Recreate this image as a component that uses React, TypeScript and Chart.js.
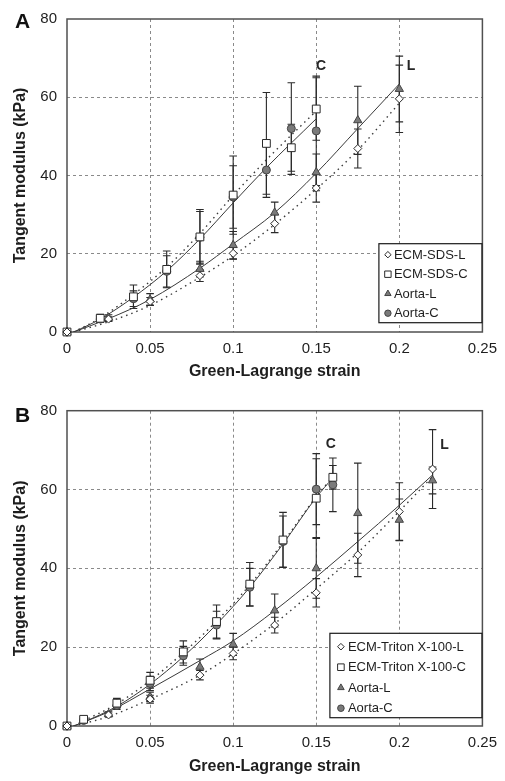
import React, { useEffect, useRef } from 'react';
import { Chart, registerables } from 'chart.js';

Chart.register(...registerables);

const FONT = '"Liberation Sans", Arial, Helvetica, sans-serif';
const TEXT = '#1e1e1e';

// ---------- shared axes ----------
const X_TICKS = [0, 0.05, 0.1, 0.15, 0.2, 0.25];
const Y_TICKS = [0, 20, 40, 60, 80];
const X_TITLE = 'Green-Lagrange strain';
const Y_TITLE = 'Tangent modulus (kPa)';

// ---------- Panel A ----------
const A_C_STRAIN = [0, 0.02, 0.04, 0.06, 0.08, 0.1, 0.12, 0.135, 0.15];
const A_ECM_C = [0, 3.5, 9.0, 16.0, 24.3, 35.0, 48.2, 47.1, 57.0];
const A_ECM_C_SD = [0, 1.0, 3.0, 4.7, 7.0, 10.0, 13.0, 6.0, 8.0];
const A_AORTA_C = [0, 3.3, 8.5, 15.5, 24.2, 34.5, 41.4, 52.0, 51.4];
const A_AORTA_C_SD = [0, 0.8, 2.0, 4.0, 6.6, 8.0, 7.0, 11.7, 14.0];

const A_L_STRAIN = [0, 0.025, 0.05, 0.08, 0.1, 0.125, 0.15, 0.175, 0.2];
const A_ECM_L = [0, 3.3, 7.8, 14.4, 20.1, 27.7, 36.8, 46.9, 59.6];
const A_ECM_L_SD = [0, 0.6, 1.0, 1.5, 1.5, 2.3, 3.6, 5.0, 8.6];
const A_AORTA_L = [0, 3.6, 8.3, 16.1, 22.2, 30.5, 40.8, 54.1, 62.1];
const A_AORTA_L_SD = [0, 0.8, 1.5, 2.0, 3.5, 2.7, 4.7, 8.7, 8.4];

const A_FIT_C_STRAIN = [0.004, 0.02, 0.04, 0.06, 0.08, 0.1, 0.12, 0.15];
const A_FIT_AORTA_C = [0, 3.3, 8.9, 15.6, 23.8, 33.0, 42.0, 54.5];
const A_FIT_ECM_C = [0, 3.6, 9.6, 16.6, 25.2, 34.9, 44.0, 56.5];
const A_FIT_L_STRAIN = [0.004, 0.025, 0.05, 0.08, 0.1, 0.125, 0.15, 0.175, 0.2];
const A_FIT_AORTA_L = [0, 3.4, 8.3, 16.3, 22.5, 30.5, 40.6, 52.0, 63.4];
const A_FIT_ECM_L = [0, 2.6, 6.8, 14.0, 19.5, 27.5, 36.5, 46.5, 58.5];

// ---------- Panel B ----------
const B_C_STRAIN = [0, 0.01, 0.03, 0.05, 0.07, 0.09, 0.11, 0.13, 0.15, 0.16];
const B_ECM_C = [0, 1.7, 5.8, 11.6, 18.8, 26.5, 36.0, 47.2, 57.8, 63.1];
const B_ECM_C_SD = [0, 0.6, 1.2, 2.0, 2.8, 4.2, 5.5, 7.0, 10.0, 3.0];
const B_AORTA_C = [0, 1.4, 5.2, 10.8, 17.8, 25.6, 35.2, 46.8, 60.1, 61.2];
const B_AORTA_C_SD = [0, 0.5, 1.0, 1.8, 2.4, 3.5, 4.8, 6.5, 9.0, 6.8];

const B_L_STRAIN = [0, 0.025, 0.05, 0.08, 0.1, 0.125, 0.15, 0.175, 0.2, 0.22];
const B_ECM_L = [0, 2.8, 6.8, 12.9, 18.4, 25.6, 33.8, 43.4, 54.4, 65.2];
const B_ECM_L_SD = [0, 0.5, 1.0, 1.2, 1.6, 2.0, 3.6, 5.5, 7.3, 10.0];
const B_AORTA_L = [0, 3.0, 7.4, 15.0, 20.7, 29.3, 40.0, 54.0, 52.3, 62.3];
const B_AORTA_L_SD = [0, 0.6, 1.2, 2.0, 2.8, 4.2, 7.6, 12.7, 5.3, 3.4];

const B_FIT_C_STRAIN = [0.004, 0.01, 0.03, 0.05, 0.07, 0.09, 0.11, 0.13, 0.15, 0.16];
const B_FIT_AORTA_C = [0, 1.0, 5.0, 10.6, 17.6, 25.8, 35.2, 46.2, 58.0, 63.0];
const B_FIT_ECM_C = [0, 1.3, 5.6, 11.5, 18.6, 26.6, 35.8, 46.6, 58.2, 63.2];
const B_FIT_L_STRAIN = [0.004, 0.025, 0.05, 0.08, 0.1, 0.125, 0.15, 0.175, 0.2, 0.22];
const B_FIT_AORTA_L = [0, 3.6, 9.4, 16.6, 21.6, 29.3, 37.8, 46.8, 56.0, 63.7];
const B_FIT_ECM_L = [0, 2.4, 6.8, 12.9, 18.3, 26.0, 34.8, 44.0, 54.5, 63.3];

// ---------- styles ----------
type MarkerKind = 'diamond' | 'square' | 'triangle' | 'circle';
const STYLE: Record<MarkerKind, { pointStyle: string; radius: number; fill: string; stroke: string }> = {
  diamond: { pointStyle: 'rectRot', radius: 4, fill: '#ffffff', stroke: '#2a2a2a' },
  square: { pointStyle: 'rect', radius: 5.5, fill: '#ffffff', stroke: '#2a2a2a' },
  triangle: { pointStyle: 'triangle', radius: 4.8, fill: '#7a7a7a', stroke: '#444444' },
  circle: { pointStyle: 'circle', radius: 4, fill: '#7a7a7a', stroke: '#444444' },
};

type Series = { label: string; kind: MarkerKind; x: number[]; y: number[]; sd: number[] };
type Fit = { x: number[]; y: number[]; dotted: boolean };

type Panel = {
  letter: string;
  canvasHeight: number;
  padTop: number;
  xAxisHeight: number;
  xTitlePad: number;
  letterBaseline: number;
  series: Series[];
  fits: Fit[];
  notes: { text: string; x: number; y: number }[];
  legend: { width: number; height: number; bottomInset: number; firstRow: number; rowGap: number; markerX: number; textX: number; markerR: number };
};

const PANEL_A: Panel = {
  letter: 'A',
  canvasHeight: 390,
  padTop: 16,
  xAxisHeight: 58,
  xTitlePad: 8.4,
  letterBaseline: 27.5,
  series: [
    { label: 'ECM-SDS-L', kind: 'diamond', x: A_L_STRAIN, y: A_ECM_L, sd: A_ECM_L_SD },
    { label: 'ECM-SDS-C', kind: 'square', x: A_C_STRAIN, y: A_ECM_C, sd: A_ECM_C_SD },
    { label: 'Aorta-L', kind: 'triangle', x: A_L_STRAIN, y: A_AORTA_L, sd: A_AORTA_L_SD },
    { label: 'Aorta-C', kind: 'circle', x: A_C_STRAIN, y: A_AORTA_C, sd: A_AORTA_C_SD },
  ],
  fits: [
    { x: A_FIT_C_STRAIN, y: A_FIT_AORTA_C, dotted: false },
    { x: A_FIT_C_STRAIN, y: A_FIT_ECM_C, dotted: true },
    { x: A_FIT_L_STRAIN, y: A_FIT_AORTA_L, dotted: false },
    { x: A_FIT_L_STRAIN, y: A_FIT_ECM_L, dotted: true },
  ],
  notes: [
    { text: 'C', x: 0.1498, y: 67.9 },
    { text: 'L', x: 0.2044, y: 67.9 },
  ],
  legend: { width: 103, height: 79, bottomInset: 9.3, firstRow: 11, rowGap: 19.5, markerX: 9, textX: 15, markerR: 3.2 },
};

const PANEL_B: Panel = {
  letter: 'B',
  canvasHeight: 391,
  padTop: 20.7,
  xAxisHeight: 55,
  xTitlePad: 4.4,
  letterBaseline: 32.3,
  series: [
    { label: 'ECM-Triton X-100-L', kind: 'diamond', x: B_L_STRAIN, y: B_ECM_L, sd: B_ECM_L_SD },
    { label: 'ECM-Triton X-100-C', kind: 'square', x: B_C_STRAIN, y: B_ECM_C, sd: B_ECM_C_SD },
    { label: 'Aorta-L', kind: 'triangle', x: B_L_STRAIN, y: B_AORTA_L, sd: B_AORTA_L_SD },
    { label: 'Aorta-C', kind: 'circle', x: B_C_STRAIN, y: B_AORTA_C, sd: B_AORTA_C_SD },
  ],
  fits: [
    { x: B_FIT_C_STRAIN, y: B_FIT_AORTA_C, dotted: false },
    { x: B_FIT_C_STRAIN, y: B_FIT_ECM_C, dotted: true },
    { x: B_FIT_L_STRAIN, y: B_FIT_AORTA_L, dotted: false },
    { x: B_FIT_L_STRAIN, y: B_FIT_ECM_L, dotted: true },
  ],
  notes: [
    { text: 'C', x: 0.1557, y: 71.6 },
    { text: 'L', x: 0.2246, y: 71.3 },
  ],
  legend: { width: 152, height: 84.4, bottomInset: 8.3, firstRow: 13.4, rowGap: 20.5, markerX: 11, textX: 18, markerR: 3.3 },
};

function drawMarker(ctx: CanvasRenderingContext2D, kind: MarkerKind, x: number, y: number, r: number) {
  const s = STYLE[kind];
  ctx.beginPath();
  if (kind === 'diamond') {
    ctx.moveTo(x - r, y);
    ctx.lineTo(x, y - r);
    ctx.lineTo(x + r, y);
    ctx.lineTo(x, y + r);
    ctx.closePath();
  } else if (kind === 'square') {
    ctx.rect(x - r, y - r, 2 * r, 2 * r);
  } else if (kind === 'triangle') {
    const a = (2 * Math.PI) / 3;
    ctx.moveTo(x, y - r * 1.15);
    ctx.lineTo(x + Math.sin(a) * r * 1.15, y - Math.cos(a) * r * 1.15);
    ctx.lineTo(x + Math.sin(2 * a) * r * 1.15, y - Math.cos(2 * a) * r * 1.15);
    ctx.closePath();
  } else {
    ctx.arc(x, y, r, 0, Math.PI * 2);
  }
  ctx.fillStyle = s.fill;
  ctx.fill();
  ctx.lineWidth = 1;
  ctx.strokeStyle = s.stroke;
  ctx.stroke();
}

function buildConfig(panel: Panel): any {
  const decor = {
    id: 'decor' + panel.letter,
    beforeDatasetsDraw(chart: any) {
      const { ctx, chartArea, scales } = chart;
      const xs = scales.x;
      const ys = scales.y;
      ctx.save();
      // frame
      ctx.strokeStyle = '#505050';
      ctx.lineWidth = 1.5;
      ctx.strokeRect(chartArea.left, chartArea.top, chartArea.right - chartArea.left, chartArea.bottom - chartArea.top);
      // error bars
      ctx.strokeStyle = '#2a2a2a';
      ctx.lineWidth = 1.1;
      for (const s of panel.series) {
        s.x.forEach((xv, i) => {
          const sd = s.sd[i];
          if (!sd) return;
          const px = xs.getPixelForValue(xv);
          const pTop = ys.getPixelForValue(s.y[i] + sd);
          const pBot = ys.getPixelForValue(s.y[i] - sd);
          ctx.beginPath();
          ctx.moveTo(px, pTop);
          ctx.lineTo(px, pBot);
          ctx.moveTo(px - 3.8, pTop);
          ctx.lineTo(px + 3.8, pTop);
          ctx.moveTo(px - 3.8, pBot);
          ctx.lineTo(px + 3.8, pBot);
          ctx.stroke();
        });
      }
      ctx.restore();
    },
    afterDatasetsDraw(chart: any) {
      const { ctx, chartArea, scales } = chart;
      ctx.save();
      // C / L notes
      ctx.fillStyle = '#262626';
      ctx.font = 'bold 14px ' + FONT;
      ctx.textAlign = 'left';
      ctx.textBaseline = 'middle';
      for (const n of panel.notes) {
        ctx.fillText(n.text, scales.x.getPixelForValue(n.x), scales.y.getPixelForValue(n.y));
      }
      // legend
      const lg = panel.legend;
      const right = chartArea.right - 0.5;
      const bottom = chartArea.bottom - lg.bottomInset;
      const left = right - lg.width;
      const top = bottom - lg.height;
      ctx.fillStyle = '#ffffff';
      ctx.fillRect(left, top, lg.width, lg.height);
      ctx.strokeStyle = '#1a1a1a';
      ctx.lineWidth = 1.2;
      ctx.strokeRect(left, top, lg.width, lg.height);
      ctx.font = '13px ' + FONT;
      panel.series.forEach((s, i) => {
        const cy = top + lg.firstRow + i * lg.rowGap;
        drawMarker(ctx, s.kind, left + lg.markerX, cy, lg.markerR);
        ctx.fillStyle = TEXT;
        ctx.textAlign = 'left';
        ctx.textBaseline = 'middle';
        ctx.fillText(s.label, left + lg.textX, cy + 0.5);
      });
      // panel letter
      ctx.fillStyle = '#111';
      ctx.font = 'bold 21px ' + FONT;
      ctx.textBaseline = 'alphabetic';
      ctx.fillText(panel.letter, 15, panel.letterBaseline);
      ctx.restore();
    },
  };

  const gridColor = (max: number) => (c: any) =>
    c.tick && (c.tick.value === 0 || c.tick.value === max) ? 'rgba(0,0,0,0)' : '#8a8a8a';

  const datasets: any[] = [
    ...panel.series.map((s) => ({
      type: 'scatter',
      label: s.label,
      data: s.x.map((xv, i) => ({ x: xv, y: s.y[i] })),
      pointStyle: STYLE[s.kind].pointStyle,
      pointRadius: STYLE[s.kind].radius,
      pointBackgroundColor: STYLE[s.kind].fill,
      pointBorderColor: STYLE[s.kind].stroke,
      pointBorderWidth: 1,
      showLine: false,
      clip: false,
      order: 1,
    })),
    ...panel.fits.map((f) => ({
      type: 'scatter',
      data: f.x.map((xv, i) => ({ x: xv, y: f.y[i] })),
      showLine: true,
      borderColor: '#3a3a3a',
      borderWidth: f.dotted ? 1.4 : 1,
      borderDash: f.dotted ? [1.5, 4] : [],
      pointRadius: 0,
      cubicInterpolationMode: 'monotone',
      fill: false,
      order: 2,
    })),
  ];

  return {
    type: 'scatter',
    data: { datasets },
    plugins: [decor],
    options: {
      responsive: false,
      animation: false,
      events: [],
      layout: { padding: { top: panel.padTop, right: 18, bottom: 0, left: 0 } },
      plugins: { legend: { display: false }, tooltip: { enabled: false }, title: { display: false } },
      scales: {
        x: {
          type: 'linear',
          min: 0,
          max: 0.25,
          afterBuildTicks: (sc: any) => {
            sc.ticks = X_TICKS.map((v) => ({ value: v }));
          },
          afterFit: (sc: any) => {
            sc.height = panel.xAxisHeight;
          },
          ticks: {
            padding: 8,
            color: TEXT,
            font: { family: FONT, size: 15 },
            maxRotation: 0,
            callback: (v: number) => String(v),
          },
          grid: { color: gridColor(0.25), lineWidth: 1, drawTicks: false },
          border: { display: false, dash: [3, 3] },
          title: {
            display: true,
            text: X_TITLE,
            color: TEXT,
            font: { family: FONT, size: 16, weight: 'bold' },
            padding: { top: 0, bottom: panel.xTitlePad },
          },
        },
        y: {
          type: 'linear',
          min: 0,
          max: 80,
          afterBuildTicks: (sc: any) => {
            sc.ticks = Y_TICKS.map((v) => ({ value: v }));
          },
          afterFit: (sc: any) => {
            sc.width = 67;
          },
          ticks: {
            padding: 10,
            color: TEXT,
            font: { family: FONT, size: 15 },
            callback: (v: number) => String(v),
          },
          grid: { color: gridColor(80), lineWidth: 1, drawTicks: false },
          border: { display: false, dash: [3, 3] },
          title: {
            display: true,
            text: Y_TITLE,
            color: TEXT,
            font: { family: FONT, size: 16, weight: 'bold' },
            padding: { top: 11.4, bottom: 0 },
          },
        },
      },
    },
  };
}

function PanelChart({ panel }: { panel: Panel }) {
  const ref = useRef<HTMLCanvasElement | null>(null);
  useEffect(() => {
    if (!ref.current) return;
    const chart = new Chart(ref.current, buildConfig(panel));
    return () => chart.destroy();
  }, [panel]);
  return (
    <canvas
      ref={ref}
      width={505}
      height={panel.canvasHeight}
      style={{ display: 'block', width: 505, height: panel.canvasHeight }}
    />
  );
}

export default function App() {
  useEffect(() => {
    document.body.style.margin = '0';
    document.body.style.background = '#ffffff';
  }, []);
  return (
    <div style={{ width: 505, height: 781, background: '#ffffff', overflow: 'hidden' }}>
      <PanelChart panel={PANEL_A} />
      <PanelChart panel={PANEL_B} />
    </div>
  );
}
